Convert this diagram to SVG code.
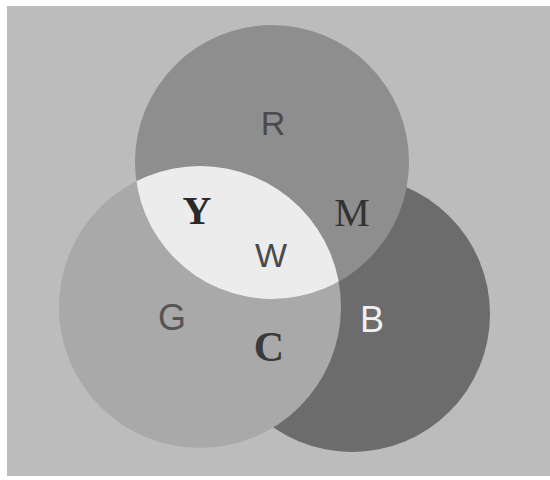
<svg xmlns="http://www.w3.org/2000/svg" width="550" height="480" viewBox="0 0 550 480">
  <style>
    .sans { font-family: "Liberation Sans", Arial, sans-serif; text-anchor: middle; }
    .serif { font-family: "Liberation Serif", "Times New Roman", serif; text-anchor: middle; }
  </style>
  <defs>
    <clipPath id="clipG">
      <circle cx="200" cy="307" r="141"/>
    </clipPath>
  </defs>
  <rect x="0" y="0" width="550" height="480" fill="#ffffff"/>
  <rect x="7" y="6" width="543" height="470" fill="#bcbcbc"/>
  <g id="circle-B">
    <circle cx="352" cy="314" r="138" fill="#6c6c6c"/>
  </g>
  <g id="circle-G">
    <circle cx="200" cy="307" r="141" fill="#a9a9a9"/>
  </g>
  <g id="circle-R">
    <circle cx="272" cy="162" r="137" fill="#8e8e8e"/>
  </g>
  <g id="region-W">
    <circle cx="272" cy="162" r="137" fill="#ececec" clip-path="url(#clipG)"/>
  </g>
  <g id="labels">
    <text class="sans" x="273" y="135" font-size="34" fill="#4a4a4a">R</text>
    <text class="serif" x="197" y="224" font-size="40" font-weight="bold" fill="#2a2a2a">Y</text>
    <text class="serif" x="352" y="226" font-size="40" fill="#333333">M</text>
    <text class="sans" x="271" y="267" font-size="34" fill="#4a4a4a">W</text>
    <text class="sans" x="172" y="330" font-size="36" fill="#555555">G</text>
    <text class="serif" x="269" y="361" font-size="42" font-weight="bold" fill="#3a3a3a">C</text>
    <text class="sans" x="372" y="332" font-size="36" fill="#f0f0f0">B</text>
  </g>
  <g id="connectors"/>
</svg>
